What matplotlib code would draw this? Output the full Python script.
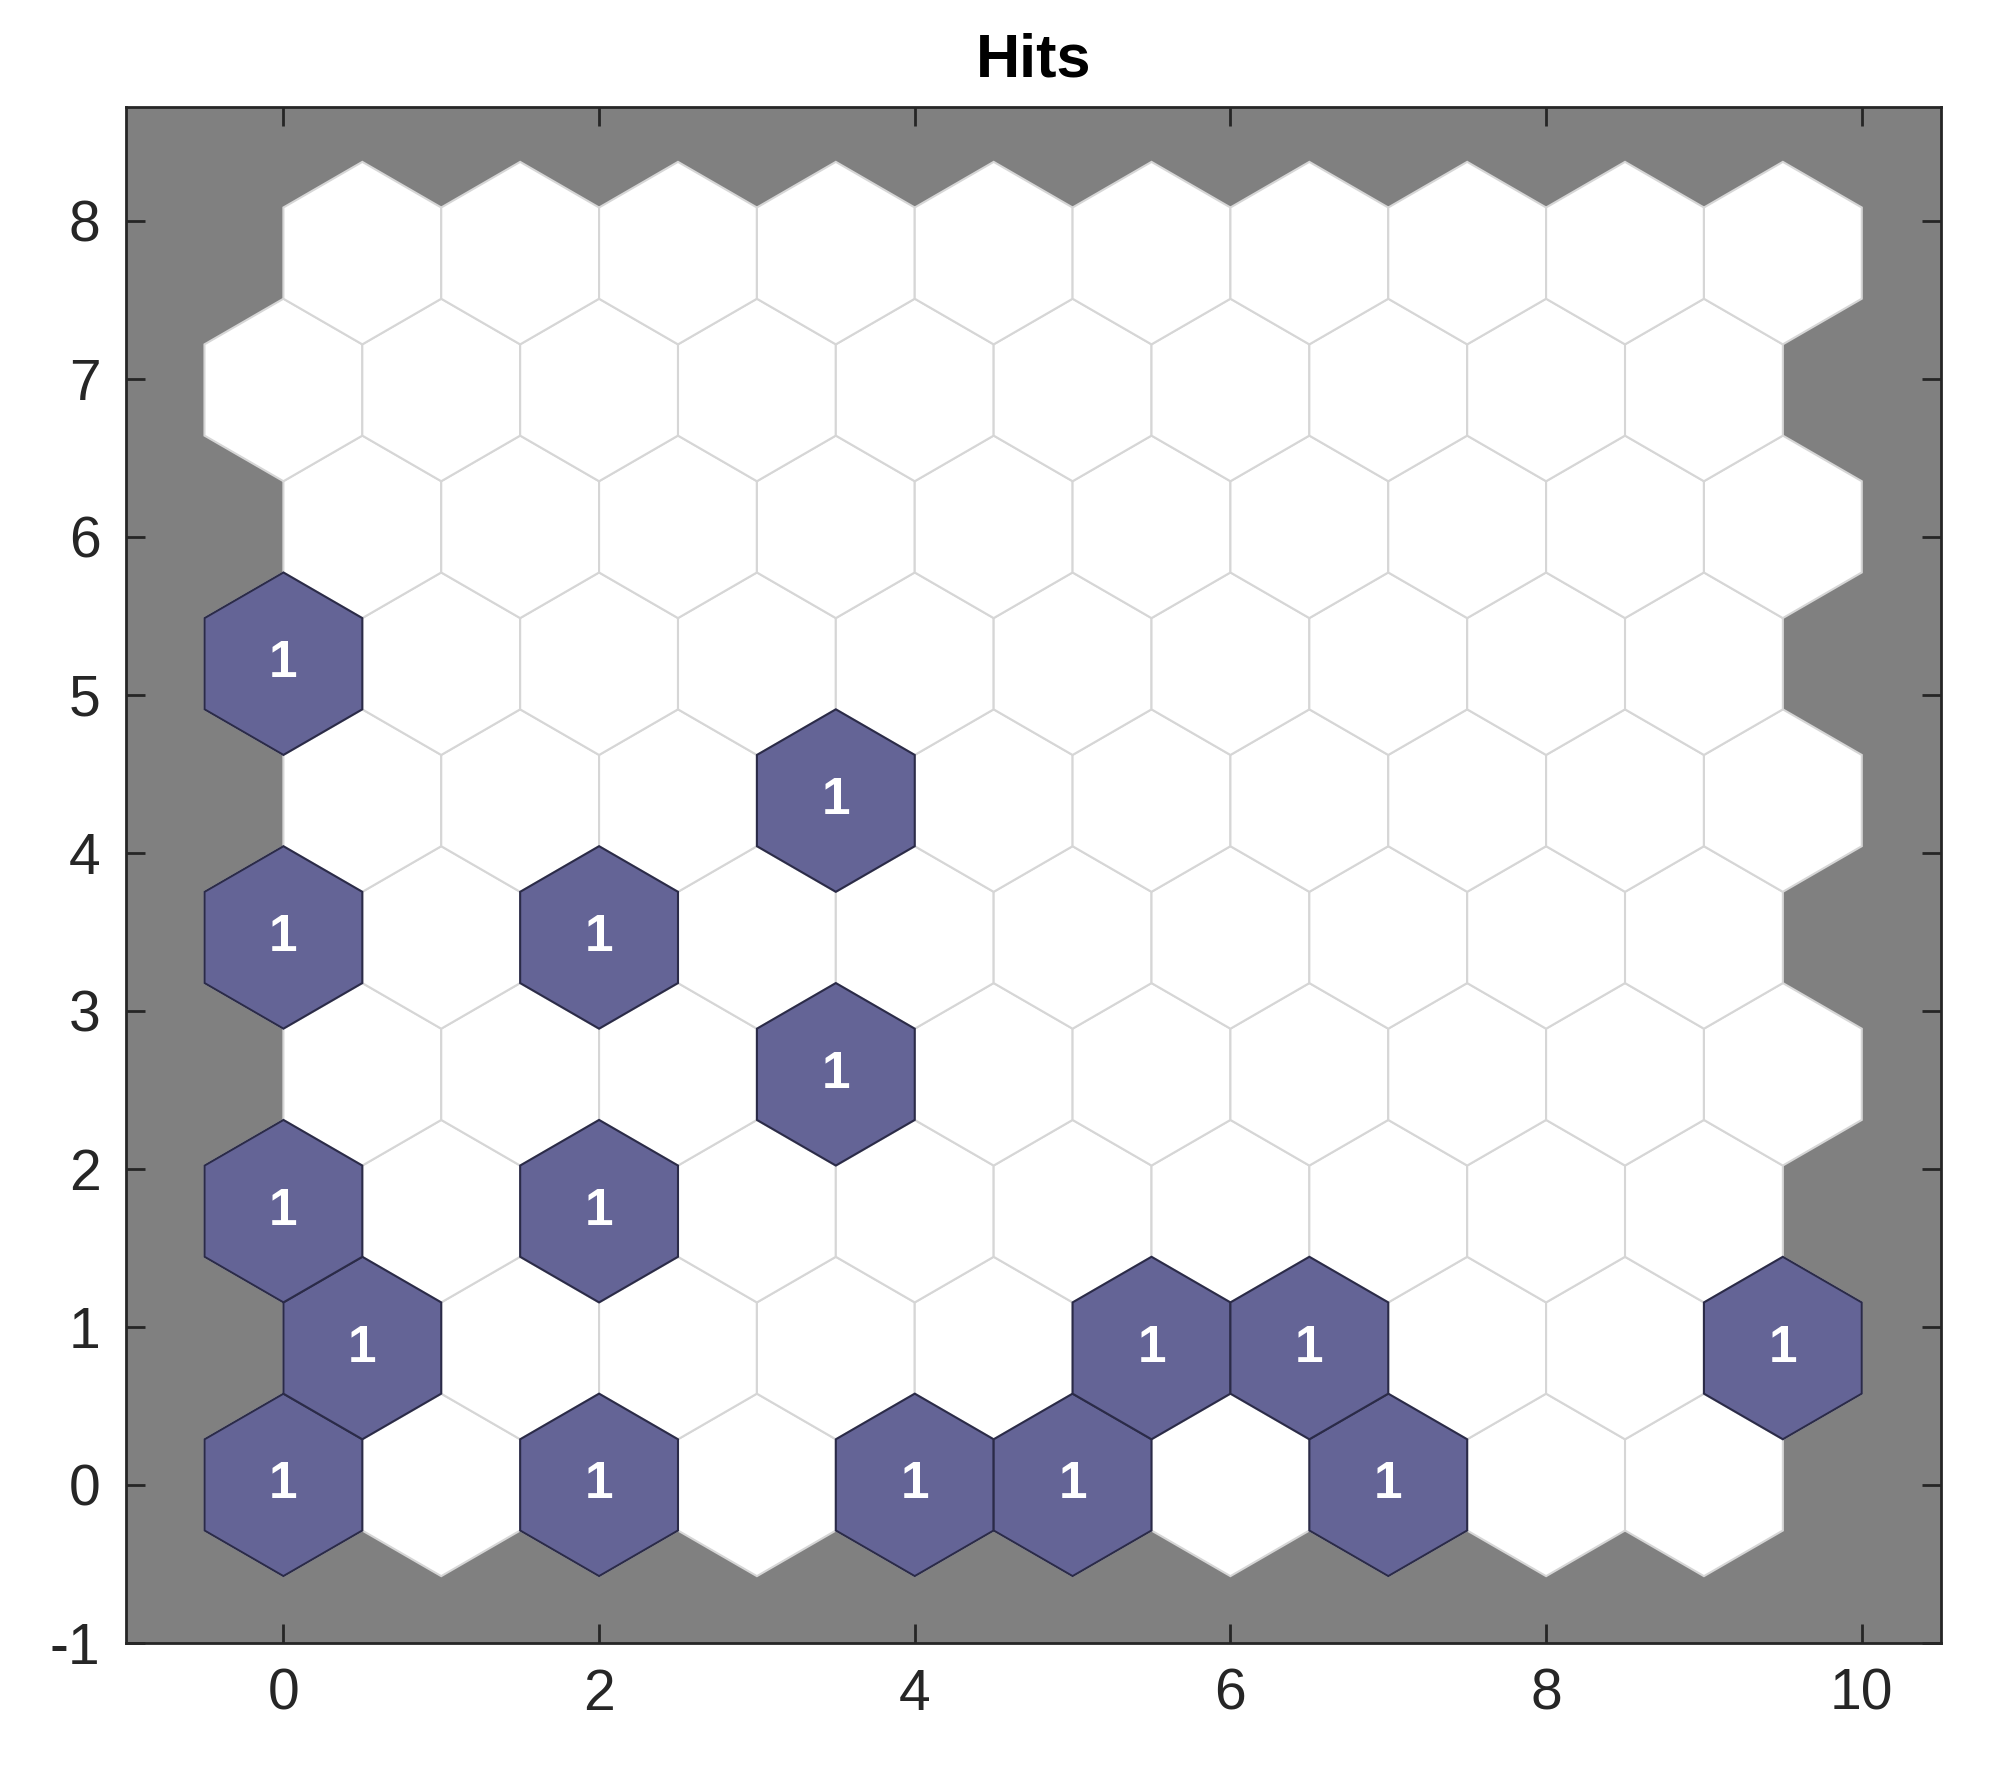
import matplotlib.pyplot as plt
from matplotlib.patches import RegularPolygon
import numpy as np

plt.rcParams['axes.unicode_minus'] = False

# SOM 10x10 hex grid, hit counts per neuron (row by row, bottom row first)
n_cols = 10
n_rows = 10
hits = np.array([
    [1, 0, 1, 0, 1, 1, 0, 1, 0, 0],
    [1, 0, 0, 0, 0, 1, 1, 0, 0, 1],
    [1, 0, 1, 0, 0, 0, 0, 0, 0, 0],
    [0, 0, 0, 1, 0, 0, 0, 0, 0, 0],
    [1, 0, 1, 0, 0, 0, 0, 0, 0, 0],
    [0, 0, 0, 1, 0, 0, 0, 0, 0, 0],
    [1, 0, 0, 0, 0, 0, 0, 0, 0, 0],
    [0, 0, 0, 0, 0, 0, 0, 0, 0, 0],
    [0, 0, 0, 0, 0, 0, 0, 0, 0, 0],
    [0, 0, 0, 0, 0, 0, 0, 0, 0, 0],
])
xticks = [0, 2, 4, 6, 8, 10]
yticks = [-1, 0, 1, 2, 3, 4, 5, 6, 7, 8]

fig = plt.figure(figsize=(20.09, 17.8), dpi=100)
ax = fig.add_axes([0.0625, 0.077, 0.9035, 0.863])
ax.set_facecolor('#808080')

r = 1 / np.sqrt(3)
hmax = hits.max()
# white background cells first
for j in range(n_rows):
    for i in range(n_cols):
        x = i + 0.5 * (j % 2)
        y = j * np.sqrt(3) / 2
        ax.add_patch(RegularPolygon((x, y), 6, radius=r, facecolor='white',
                                    edgecolor='#d6d6d6', linewidth=1.5, zorder=1))
# hit cells on top
for j in range(n_rows):
    for i in range(n_cols):
        h = hits[j, i]
        if h == 0:
            continue
        x = i + 0.5 * (j % 2)
        y = j * np.sqrt(3) / 2
        ax.add_patch(RegularPolygon((x, y), 6, radius=r * h / hmax, facecolor='#646496',
                                    edgecolor='#2b2b48', linewidth=1.5, zorder=2))
        ax.text(x, y, str(h), color='white', fontsize=37, fontweight='bold',
                ha='center', va='center', family='Liberation Sans', zorder=3)

ax.set_xlim(-1, 10.5)
ax.set_ylim(-1, 8.72)
ax.set_xticks(xticks)
ax.set_yticks(yticks)
ax.tick_params(direction='in', length=14, width=2, top=True, right=True,
               labelsize=41, colors='#262626', pad=18)
for lab in ax.get_xticklabels() + ax.get_yticklabels():
    lab.set_family('Liberation Sans')
for s in ax.spines.values():
    s.set_color('#262626')
    s.set_linewidth(2)
ax.set_title('Hits', fontsize=44, fontweight='bold', family='Liberation Sans', pad=22)

fig.savefig('out.png')
